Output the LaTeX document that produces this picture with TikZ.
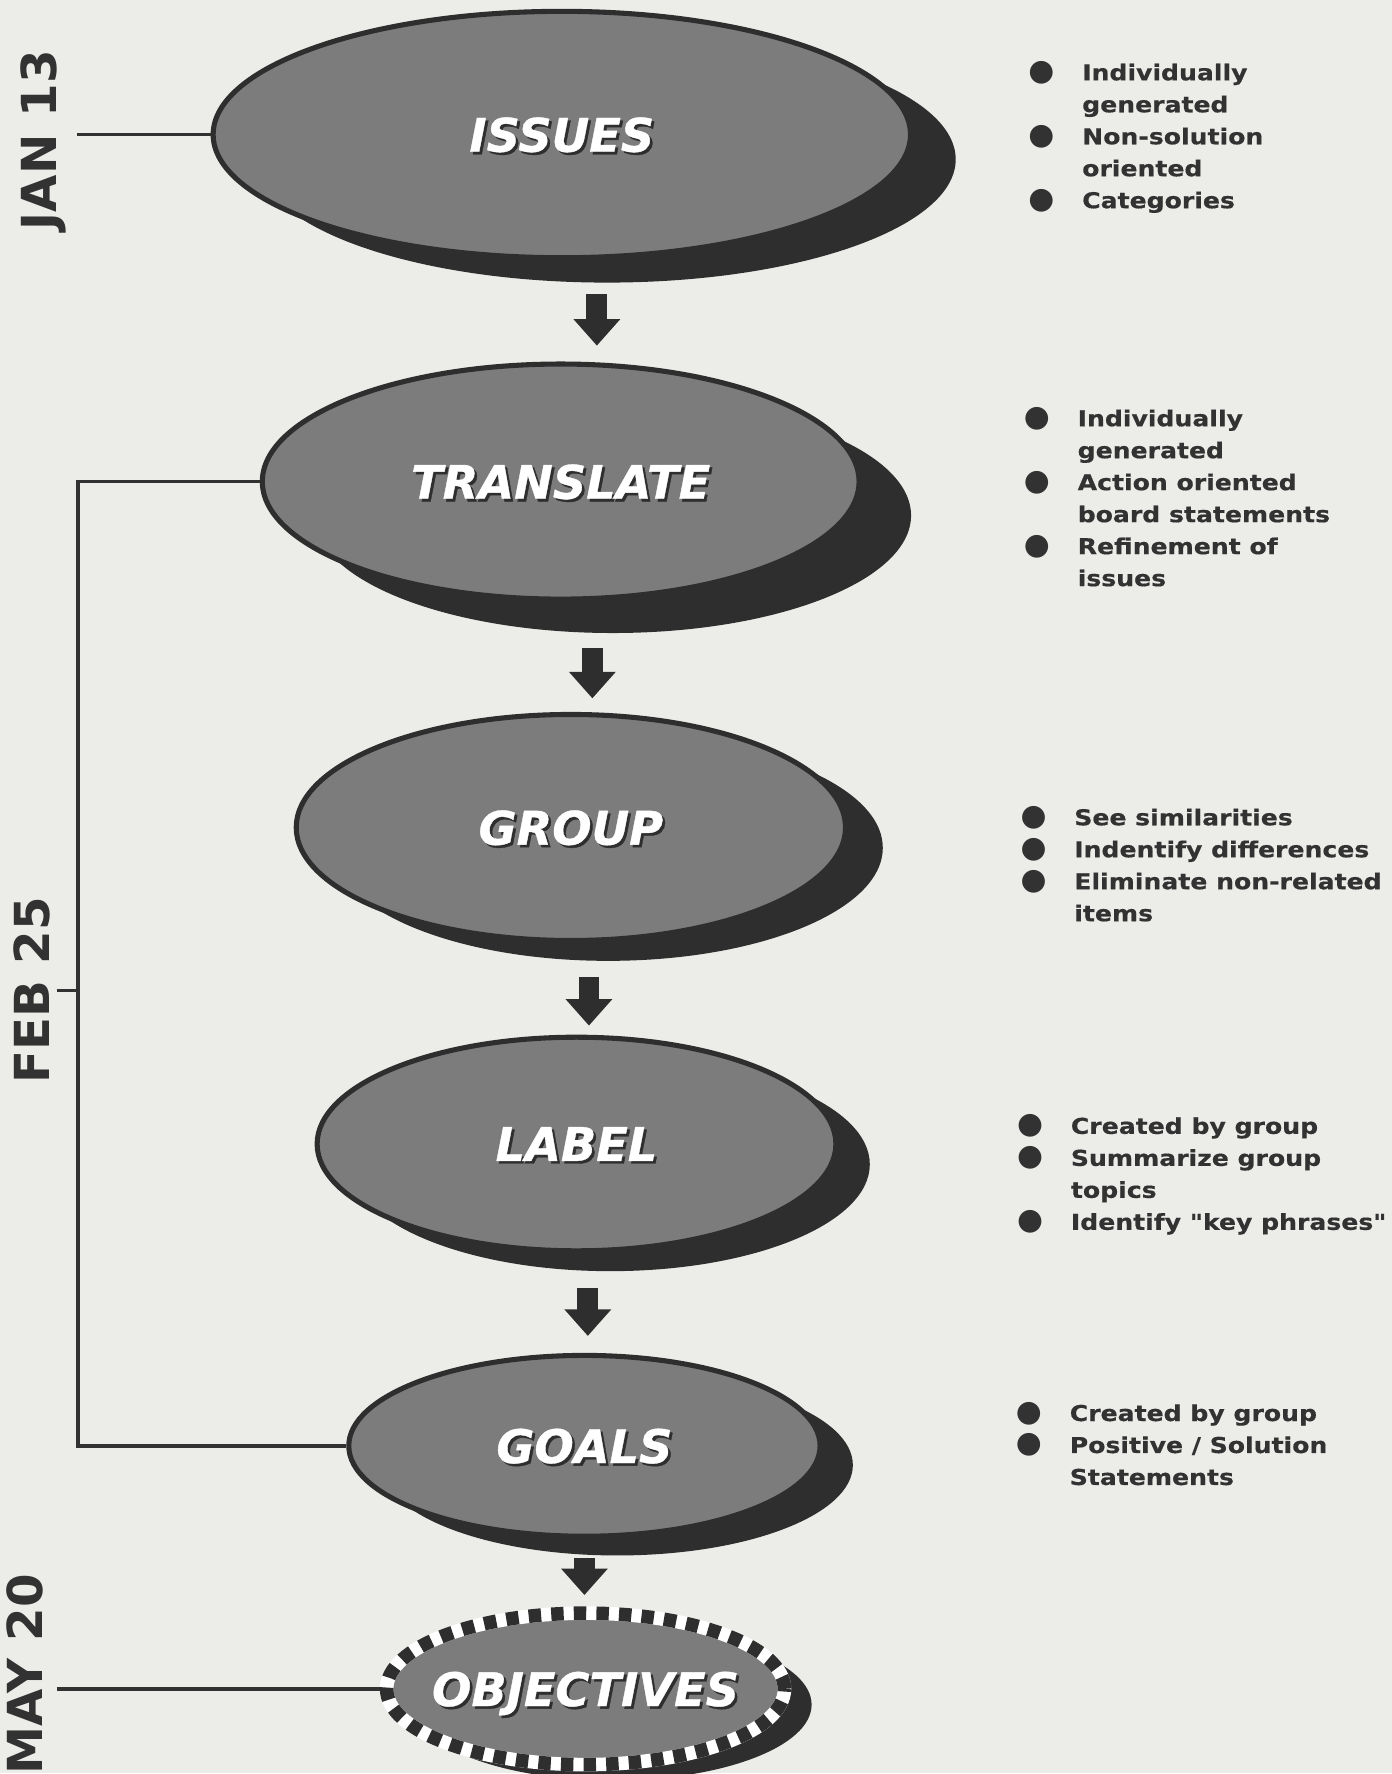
\documentclass[tikz,border=0pt]{standalone}
\usepackage{fontspec}
\setmainfont{DejaVu Sans}
\newfontfamily\notefont[FakeStretch=1.15, FakeBold=0.5]{DejaVu Sans}
\newfontfamily\ovalfont[FakeBold=0.8]{DejaVu Sans}
\usetikzlibrary{shapes.geometric, arrows.meta, shadows, calc}

\definecolor{paper}{RGB}{236,236,233}
\definecolor{ovalgray}{RGB}{124,124,124}
\definecolor{ovaldark}{RGB}{46,46,46}
\definecolor{inkgray}{RGB}{50,50,50}

% white label with a small dark drop shadow, kept out of the node size
\newcommand{\ovaltext}[1]{\makebox[0pt]{\smash{\raisebox{-.5\height}{\makebox[0pt][l]{\hspace{1.3pt}\raisebox{-1.3pt}{\color{ovaldark}#1}}\color{white}#1}}}}
% bullet hung in the left margin of a note
\newcommand{\bul}{\llap{\smash{\rmfamily\fontsize{15pt}{15pt}\selectfont ●}\hspace{14pt}}}

\begin{document}
\begin{tikzpicture}[x=0.02cm, y=-0.02cm,
    oval/.style={ellipse, draw=ovaldark, line width=0.09cm, fill=ovalgray, inner sep=0pt,
      font=\ovalfont\fontsize{23.3pt}{28pt}\selectfont\bfseries\itshape},
    oval shadow/.style 2 args={drop shadow={shadow xshift=#1, shadow yshift=#2, fill=ovaldark, opacity=1}},
    target/.style={ellipse, draw=white, line width=0.24cm, fill=ovalgray, inner sep=0pt,
      postaction={draw=ovaldark, dash pattern=on 0.22cm off 0.18cm},
      font=\ovalfont\fontsize{23.3pt}{28pt}\selectfont\bfseries\itshape},
    bigarrow/.style={draw=ovaldark, line width=0.37cm, -{Triangle[width=0.8cm, length=0.47cm]}},
    tline/.style={draw=inkgray, line width=0.06cm},
    datelabel/.style={rotate=90, inner sep=0pt, text=inkgray, font=\fontsize{24.3pt}{28pt}\selectfont\bfseries},
    notes/.style={anchor=north west, align=left, inner sep=0pt, text=inkgray,
      font=\notefont\bfseries\fontsize{11pt}{16.1pt}\selectfont}]

    \fill[paper] (0,0) rectangle (1231,1568);

    % stages
    \node (issues) at (497, 119) [oval, oval shadow={0.8cm}{-0.44cm}, minimum width=12.34cm, minimum height=4.36cm] {\ovaltext{ISSUES}};

    \node (translate) at (496, 426) [oval, oval shadow={0.92cm}{-0.6cm}, minimum width=10.56cm, minimum height=4.16cm] {\ovaltext{TRANSLATE}};

    \node (group) at (505, 732) [oval, oval shadow={0.66cm}{-0.36cm}, minimum width=9.72cm, minimum height=4.0cm] {\ovaltext{GROUP}};

    \node (label) at (510, 1012) [oval, oval shadow={0.6cm}{-0.36cm}, minimum width=9.18cm, minimum height=3.78cm] {\ovaltext{LABEL}};

    \node (goals) at (517, 1279) [oval, oval shadow={0.58cm}{-0.34cm}, minimum width=8.34cm, minimum height=3.2cm] {\ovaltext{GOALS}};

    \node (objectives) at (518, 1494) [target, oval shadow={0.48cm}{-0.28cm}, minimum width=7.04cm, minimum height=2.68cm] {\ovaltext{OBJECTIVES}};

    % arrows between stages
    \draw[bigarrow] ($(issues.south)+(31,30)$) -- ($(translate.north)+(32,-14)$);
    \draw[bigarrow] ($(translate.south)+(28,41)$) -- ($(group.north)+(19,-12)$);
    \draw[bigarrow] ($(group.south)+(16,30)$) -- ($(label.north)+(11,-8)$);
    \draw[bigarrow] ($(label.south)+(10,31)$) -- ($(goals.north)+(3,-15)$);
    \draw[bigarrow] ($(goals.south)+(0,17)$) -- ($(objectives.north)+(-1,-10)$);

    % dates
    \node (jan13) at (38, 124) [datelabel, outer sep=0.2cm] {JAN 13};
    \node (feb25) at (28, 876) [datelabel, outer sep=0.12cm] {FEB 25};
    \node (may20) at (22, 1481) [datelabel, outer sep=0.24cm] {MAY 20};

    \coordinate (brk) at (69, 0);

    \draw[tline] (jan13.south |- issues.west) -- (issues.west);
    \draw[tline] (translate.west) -- (translate.west -| brk) -- (goals.west -| brk) -- (goals.west);
    \draw[tline] (feb25.south) -- (feb25.south -| brk);
    \draw[tline] (may20.south |- objectives.west) -- (objectives.west);

    % notes
    \node (n-issues) at (957, 56) [notes] {\bul Individually\\ generated\\ \bul Non-solution\\ oriented\\ \bul Categories};
    \node (n-translate) at (953, 362) [notes] {\bul Individually\\ generated\\ \bul Action oriented\\ board statements\\ \bul Refinement of\\ issues};
    \node (n-group) at (950, 715) [notes] {\bul See similarities\\ \bul Indentify differences\\ \bul Eliminate non-related\\ items};
    \node (n-label) at (947, 988) [notes] {\bul Created by group\\ \bul Summarize group\\ topics\\ \bul Identify "key phrases"};
    \node (n-goals) at (946, 1242) [notes] {\bul Created by group\\ \bul Positive / Solution\\ Statements};

\end{tikzpicture}
\end{document}
